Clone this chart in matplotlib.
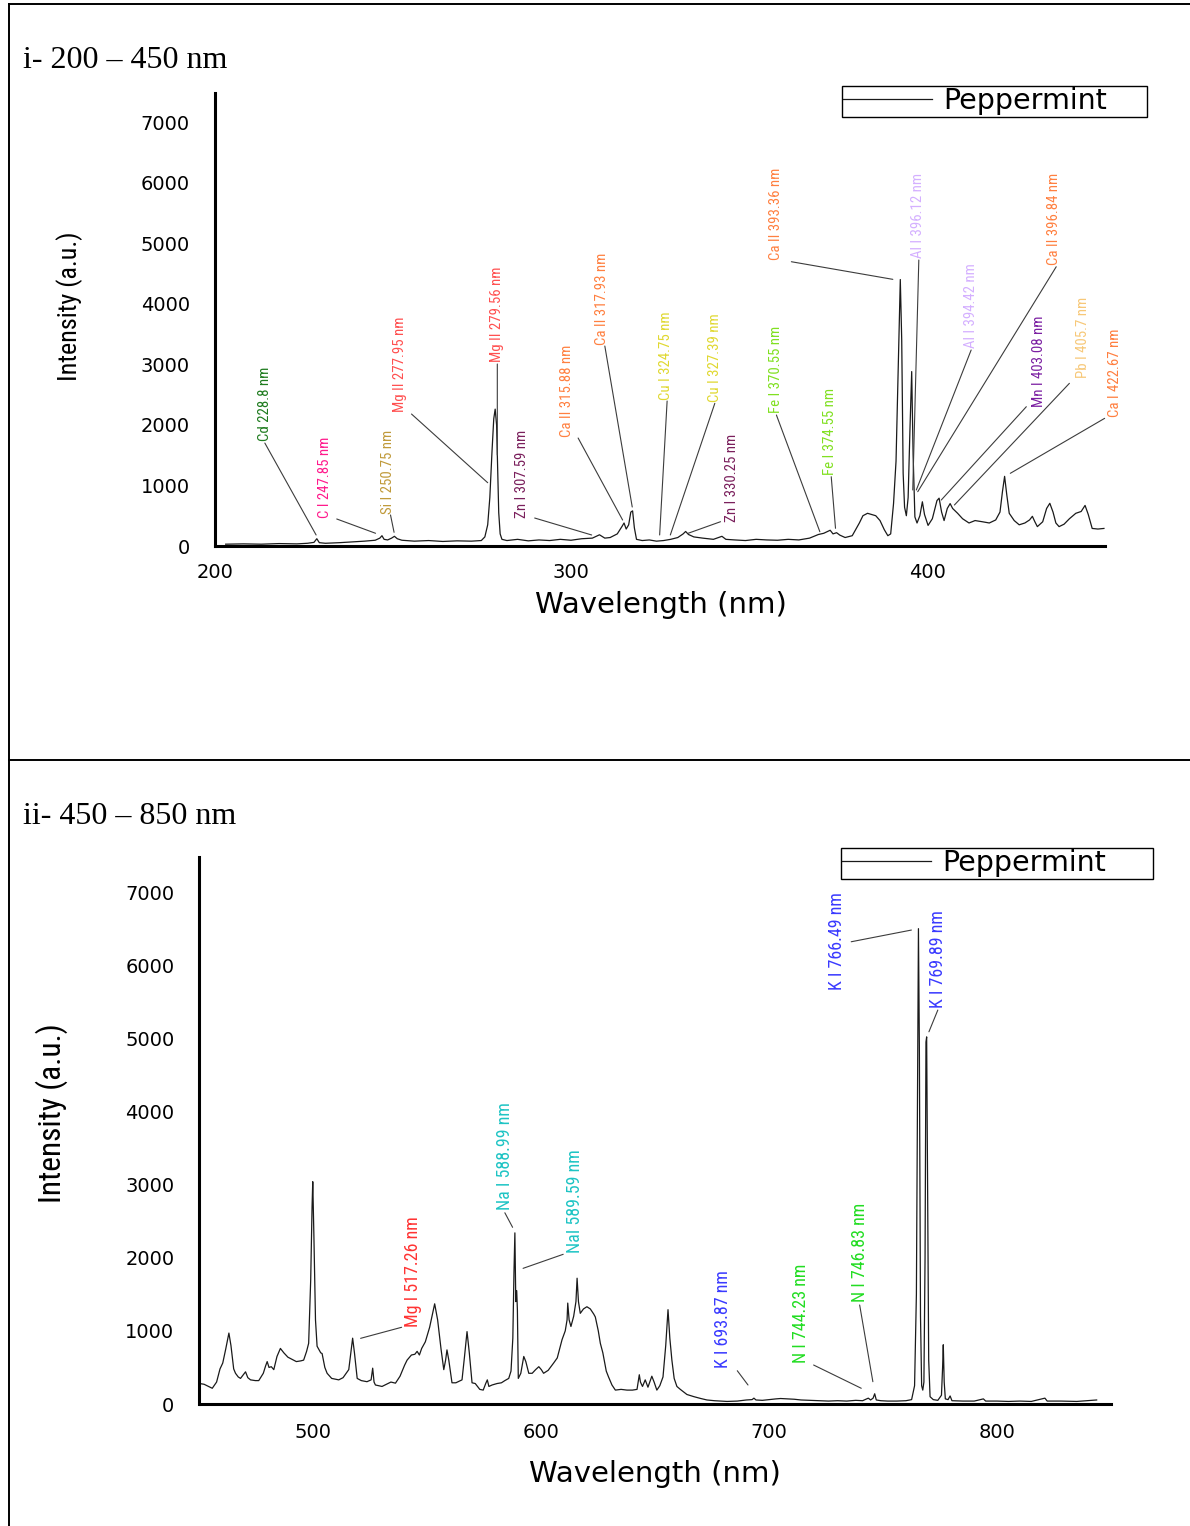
import os
import matplotlib
matplotlib.use("Agg")
import matplotlib.pyplot as plt
from matplotlib.lines import Line2D
from matplotlib import font_manager as fm
from matplotlib.textpath import TextPath

# ---------------- data: panel i (200-450 nm) ----------------
wl_uv = [203, 208, 213, 218, 223, 226, 227.8, 228.6, 229.3, 231, 235, 239, 242, 245,
         246.3, 246.9, 247.5, 248.5, 249.6, 250.4, 251.2, 252.5, 256, 260, 264, 268, 272,
         274.8, 275.8, 276.6, 277.2, 277.8, 278.3, 278.7, 279.1, 279.4, 279.7, 280.1, 280.6,
         282, 285, 288, 291, 294, 297, 300, 303, 306, 308, 309.5, 311, 313, 314.4, 314.9,
         315.5, 316.2, 316.8, 317.3, 317.8, 318.4, 320, 322, 324, 326, 328, 330, 331.5,
         332.2, 333, 334.5, 337, 340, 342.4, 343.5, 346, 349, 352, 355, 358, 361, 364, 367,
         369.5, 371, 372.8, 373.6, 374.6, 375.5, 377, 379, 381, 382, 383.3, 384.5, 385.6,
         386.8, 388, 389, 389.8, 390.6, 391.3, 391.9, 392.5, 392.9, 393.3, 393.7, 394.2,
         394.7, 395.2, 395.7, 396.1, 396.6, 397.2, 398, 398.7, 399.3, 400.3, 401.5, 402.8,
         403.4, 404.1, 404.8, 405.7, 406.5, 407.2, 408.6, 410, 411.8, 413.5, 415.6, 417.5,
         419.3, 420.5, 421.2, 421.8, 422.4, 423.1, 424.5, 425.9, 427.5, 428.8, 429.6, 430.3,
         431, 432.5, 433.6, 434.5, 435.4, 436.2, 437.1, 438.5, 440, 441.8, 443.3, 444.4,
         445.3, 446.4, 448, 449.7]
int_uv = [30, 35, 30, 40, 35, 45, 60, 120, 55, 45, 55, 70, 80, 95,
          130, 170, 110, 100, 130, 160, 120, 95, 80, 90, 75, 85, 80,
          90, 150, 350, 800, 1550, 2100, 2260, 2000, 1250, 550, 200, 110,
          90, 110, 85, 100, 90, 110, 95, 120, 130, 185, 130, 140, 200, 330, 380,
          280, 350, 560, 580, 300, 110, 90, 100, 80, 90, 110, 140, 200,
          240, 190, 150, 130, 110, 160, 110, 100, 90, 110, 100, 95, 110, 100, 130,
          190, 210, 260, 200, 220, 180, 140, 170, 380, 500, 540, 520, 500,
          420, 270, 170, 200, 700, 1400, 2900, 4400, 3400, 1200, 640, 500,
          800, 1900, 2880, 1500, 480, 380, 500, 730, 520, 340, 450, 750,
          790, 560, 420, 620, 700, 620, 540, 450, 380, 420, 400, 380,
          430, 560, 900, 1150, 850, 540, 420, 350, 380, 430, 490, 400,
          320, 400, 620, 705, 560, 380, 320, 360, 450, 540, 570, 670,
          520, 290, 280, 290]

# ---------------- data: panel ii (450-850 nm) ----------------
wl_vis = [450, 452, 454, 455.6, 457.5, 459, 460.2, 461.5, 462.9, 463.8, 465, 465.8, 467,
          468, 469.2, 470.2, 471.2, 472.4, 474.5, 476, 478, 479, 479.7, 480.5, 481.5, 482.6,
          484, 485.5, 487, 488.8, 490.6, 492.5, 494.5, 495.7, 497, 497.9, 498.8, 499.4,
          499.7, 500.2, 500.9, 501.6, 502.3, 503.2, 503.8, 505, 506, 508, 511.1, 513, 515.5,
          516.4, 517.2, 518, 519.2, 521, 523.5, 525.3, 526, 526.6, 527.2, 530.1, 532, 534,
          536, 538, 540, 541.1, 543, 544.5, 545.5, 546.5, 547.5, 549.1, 551, 553.2, 554.5,
          556, 557.2, 558, 558.6, 559.4, 560.8, 562.5, 565.2, 566.3, 567.4, 568.4, 569.6,
          571, 573, 574.5, 575.6, 576.3, 577, 578.4, 580.6, 582.5, 584, 585.7, 586.7, 587.5,
          588.0, 588.4, 588.8, 589.2, 589.5, 589.9, 591, 592.3, 593.2, 594.5, 596, 597.5,
          598.9, 600, 601, 603, 605.4, 607, 609.1, 610.5, 611.3, 611.6, 612.2, 613, 614.2,
          615.2, 615.7, 616.3, 617.1, 618.5, 620, 621.5, 623, 623.7, 625, 625.9, 627, 628.5,
          629.5, 631, 632.5, 635, 637.6, 640, 642, 643.0, 643.5, 644.4, 645.6, 646.8, 648.5,
          649.5, 650.7, 652, 653.4, 654.6, 655.6, 656.4, 657.3, 658.3, 659.5, 661, 663.9,
          667, 670, 672.7, 676, 681.5, 686, 690, 692.5, 693.3, 694.2, 697, 700, 703, 705,
          708, 711, 714, 718, 722, 726, 730, 734, 738, 741, 743.5, 744.5, 745.6, 746.3, 747,
          749, 752, 756, 760, 762.5, 763.8, 764.6, 765.2, 765.5, 765.9, 766.4, 766.9, 767.4,
          767.9, 768.4, 768.8, 769.1, 769.5, 770.0, 770.6, 772, 774, 775.6, 776.1, 776.4,
          776.8, 777.3, 778.5, 779.4, 780.2, 785, 790, 794, 795, 800, 805, 810, 815, 821,
          822, 828, 835, 843.7]
int_vis = [280, 270, 240, 215, 300, 480, 560, 750, 970, 800, 480, 420, 370,
           350, 400, 440, 360, 330, 320, 320, 420, 520, 580, 500, 510, 470,
           650, 760, 700, 640, 610, 580, 590, 600, 720, 830, 1700, 2700,
           3040, 2300, 1150, 790, 750, 700, 690, 500, 420, 350, 330, 360, 470,
           700, 900, 700, 350, 320, 305, 330, 490, 300, 260, 240, 270, 300,
           285, 380, 530, 600, 670, 680, 720, 670, 760, 850, 1050, 1370, 1150,
           750, 470, 600, 740, 600, 290, 290, 330, 650, 990, 700, 290,
           280, 200, 190, 280, 330, 240, 260, 280, 290, 320, 350, 450, 900,
           1800, 2340, 1400, 1550, 1290, 350, 420, 650, 580, 420, 420, 470,
           510, 470, 420, 460, 560, 630, 880, 1000, 1150, 1380, 1150, 1060, 1200,
           1400, 1720, 1400, 1240, 1300, 1330, 1300, 1230, 1190, 1000, 830, 700, 450,
           370, 260, 190, 200, 190, 190, 200, 400, 300, 240, 330, 230, 380,
           300, 190, 250, 370, 800, 1290, 900, 600, 350, 240, 200, 130,
           100, 75, 55, 45, 35, 40, 55, 60, 80, 55, 50, 60, 70, 75,
           70, 65, 55, 50, 45, 40, 45, 40, 50, 45, 80, 55, 80, 140, 55,
           45, 40, 40, 45, 60, 250, 1500, 5000, 6500, 4900, 1200, 250, 190,
           300, 2000, 4950, 5020, 3000, 600, 100, 60, 50, 120, 500, 810,
           300, 70, 60, 110, 45, 40, 40, 70, 40, 40, 35, 40, 35, 80,
           40, 40, 35, 55]

series_name = "Peppermint"
x_ticks_uv = [200, 300, 400]
x_ticks_vis = [500, 600, 700, 800]
y_ticks = [0, 1000, 2000, 3000, 4000, 5000, 6000, 7000]

# label text, colour, text anchor (nm, I), leader start (nm, I), leader end (nm, I)
labels_uv = [
    ("Cd 228.8 nm", "#1e7b1e", (214.0, 1734), (214.0, 1700), (228.4, 182)),
    ("C I 247.85 nm", "#ff1a8c", (230.9, 462), (234.2, 446), (245.1, 210)),
    ("Si I 250.75 nm", "#c09a3a", (248.6, 528), (249.3, 512), (250.3, 226)),
    ("Mg II 277.95 nm", "#ff5050", (251.9, 2212), (255.2, 2179), (276.6, 1045)),
    ("Mg II 279.56 nm", "#ff5050", (279.2, 3038), (279.3, 3005), (279.3, 1502)),
    ("Zn I 307.59 nm", "#7a1f5c", (286.2, 462), (289.8, 462), (305.8, 182)),
    ("Ca II 315.88 nm", "#ff8040", (298.8, 1800), (302.0, 1783), (314.5, 429)),
    ("Ca II 317.93 nm", "#ff8040", (308.6, 3319), (309.5, 3302), (317.2, 644)),
    ("Cu I 324.75 nm", "#e0d830", (326.8, 2410), (327.0, 2394), (324.9, 182)),
    ("Cu I 327.39 nm", "#e0d830", (340.4, 2382), (340.4, 2356), (327.9, 182)),
    ("Zn I 330.25 nm", "#7a1f5c", (345.1, 401), (342.0, 401), (332.9, 210)),
    ("Fe I 370.55 nm", "#80e020", (357.7, 2191), (357.7, 2163), (369.9, 236)),
    ("Fe I 374.55 nm", "#80e020", (372.8, 1172), (373.1, 1144), (374.3, 292)),
    ("Ca II 393.36 nm", "#ff8040", (357.7, 4722), (361.9, 4694), (390.4, 4403)),
    ("Al I 396.12 nm", "#d4b0ff", (397.4, 4750), (397.7, 4722), (396.0, 925)),
    ("Al I 394.42 nm", "#d4b0ff", (412.4, 3264), (412.4, 3236), (397.0, 925)),
    ("Ca II 396.84 nm", "#ff8040", (435.8, 4639), (436.3, 4611), (397.4, 897)),
    ("Mn I 403.08 nm", "#7b1fa2", (431.6, 2300), (427.9, 2300), (404.0, 759)),
    ("Pb I 405.7 nm", "#f7c878", (443.8, 2769), (440.0, 2686), (407.7, 677)),
    ("Ca I 422.67 nm", "#ff7f3f", (452.7, 2135), (449.9, 2108), (423.4, 1200)),
]
labels_vis = [
    ("Mg I 517.26 nm", "#ff3333", (543.5, 1057), (538.7, 1049), (520.7, 898)),
    ("Na I 588.99 nm", "#1ec4c4", (584.0, 2652), (584.0, 2615), (587.4, 2416)),
    ("NaI 589.59 nm", "#1ec4c4", (614.7, 2060), (609.6, 2047), (592.0, 1855)),
    ("K I 693.87 nm", "#3a3aff", (679.7, 488), (686.0, 455), (690.7, 260)),
    ("N I 744.23 nm", "#22dd22", (714.1, 556), (719.5, 533), (740.4, 215)),
    ("N I 746.83 nm", "#22dd22", (739.7, 1399), (739.7, 1354), (745.5, 305)),
    ("K I 766.49 nm", "#3a3aff", (729.7, 5660), (736.0, 6321), (762.4, 6481)),
    ("K I 769.89 nm", "#3a3aff", (774.0, 5410), (774.0, 5387), (770.1, 5090)),
]


# ---------------- fonts ----------------
def pick_narrow():
    tl = fm.fontManager.ttflist
    for nm in ["Liberation Sans Narrow", "Arial Narrow", "Roboto Condensed",
               "Open Sans Condensed", "Noto Sans Condensed", "DejaVu Sans Condensed"]:
        for f in tl:
            if f.name == nm and f.style == "normal" and f.weight in (400, "normal", "regular"):
                return fm.FontProperties(fname=f.fname)
    bad = ("bold", "italic", "oblique", "light", "medium", "thin", "black", "semibold",
           "extrabold", "serif", "mono", "extracondensed", "semicondensed", "ultra")
    found = {}
    for f in tl:
        base = os.path.basename(f.fname).lower().replace("-", "").replace("_", "")
        if ("condensed" in base or "narrow" in base) and not any(b in base for b in bad):
            found.setdefault(f.name, f.fname)
    for key in ["Liberation Sans Narrow", "Roboto", "Noto Sans", "Open Sans", "DejaVu Sans"]:
        if key in found:
            return fm.FontProperties(fname=found[key])
    if found:
        return fm.FontProperties(fname=list(found.values())[0])
    return fm.FontProperties(family="Liberation Sans")


NARROW_FP = pick_narrow()


def size_for(text, target_px):
    w = TextPath((0, 0), text, size=1, prop=NARROW_FP).get_extents().width
    return target_px * 72.0 / 100.0 / w


ann_uv = size_for("Mg II 277.95 nm", 93)
ann_vis = size_for("Mg I 517.26 nm", 108)
ylab_uv = size_for("Intensity (a.u.)", 146)
ylab_vis = size_for("Intensity (a.u.)", 175)

SERIF = "Liberation Serif"
plt.rcParams["font.family"] = ["DejaVu Sans"]

W, H = 1190, 1526
fig = plt.figure(figsize=(W / 100, H / 100), dpi=100)


def fx(px):
    return px / W


def fy(py):
    return 1 - py / H


# frame lines
for (x0, y0, x1, y1) in [(9, 4, 1190, 4), (9, 4, 9, 1526), (9, 760, 1190, 760)]:
    fig.add_artist(Line2D([fx(x0), fx(x1)], [fy(y0), fy(y1)], transform=fig.transFigure,
                          color="black", lw=1.4))

fig.text(fx(23), fy(60), "i- 200 \u2013 450 nm", family=SERIF, fontsize=23, ha="left", va="center")
fig.text(fx(23), fy(816), "ii- 450 \u2013 850 nm", family=SERIF, fontsize=23, ha="left", va="center")


def setup(ax, wl, inten, xlim, xticks, labels, ann_size, tick_pad_x, tick_pad_y,
          ylab_size, ylab_coords, xlab_coords, legend_box):
    ax.plot(wl, inten, color="#1a1a1a", lw=0.9, label=series_name)
    ax.set_xlim(*xlim)
    ax.set_ylim(0, 7480)
    ax.set_xticks(xticks)
    ax.set_yticks(y_ticks)
    for s in ("top", "right"):
        ax.spines[s].set_visible(False)
    for s in ("left", "bottom"):
        ax.spines[s].set_linewidth(2.2)
    ax.tick_params(axis="both", length=0, labelsize=14)
    ax.tick_params(axis="x", pad=tick_pad_x)
    ax.tick_params(axis="y", pad=tick_pad_y)
    ax.set_xlabel("Wavelength (nm)", fontsize=21)
    ax.xaxis.set_label_coords(*xlab_coords)
    ax.xaxis.label.set_va("center")
    ax.set_ylabel("Intensity (a.u.)", fontproperties=NARROW_FP)
    ax.yaxis.label.set_fontsize(ylab_size)
    ax.yaxis.set_label_coords(*ylab_coords)
    ax.yaxis.label.set_va("center")
    for text, col, tpos, lstart, lend in labels:
        ax.annotate("", xy=lend, xytext=lstart, annotation_clip=False,
                    arrowprops=dict(arrowstyle="-", color="#3c3c3c", lw=0.8,
                                    shrinkA=0, shrinkB=0))
        t = ax.text(tpos[0], tpos[1], text, rotation=90, ha="center", va="bottom",
                    color=col, fontproperties=NARROW_FP)
        t.set_fontsize(ann_size)
    x0, y0, x1, y1 = legend_box
    leg = ax.legend(loc="upper left",
                    bbox_to_anchor=(fx(x0), fy(y1), fx(x1) - fx(x0), fy(y0) - fy(y1)),
                    bbox_transform=fig.transFigure, borderaxespad=0, mode="expand",
                    fontsize=20.5, handlelength=3.1, handletextpad=0.42,
                    borderpad=0.05, fancybox=False, framealpha=1,
                    edgecolor="black")
    leg.get_frame().set_linewidth(1.0)


ax1 = fig.add_axes([fx(215), fy(546), fx(1105) - fx(215), fy(93) - fy(546)])
setup(ax1, wl_uv, int_uv, (200, 450), x_ticks_uv, labels_uv, ann_uv, 12, 18, ylab_uv,
      (-0.163, 0.53), (0.5006, -0.130), (842, 86, 1147, 118))

ax2 = fig.add_axes([fx(199.5), fy(1404), fx(1111) - fx(199.5), fy(857) - fy(1404)])
setup(ax2, wl_vis, int_vis, (450, 850), x_ticks_vis, labels_vis, ann_vis, 14, 18, ylab_vis,
      (-0.162, 0.531), (0.500, -0.128), (841, 848, 1153, 886))

fig.savefig("out.png", dpi=100)
